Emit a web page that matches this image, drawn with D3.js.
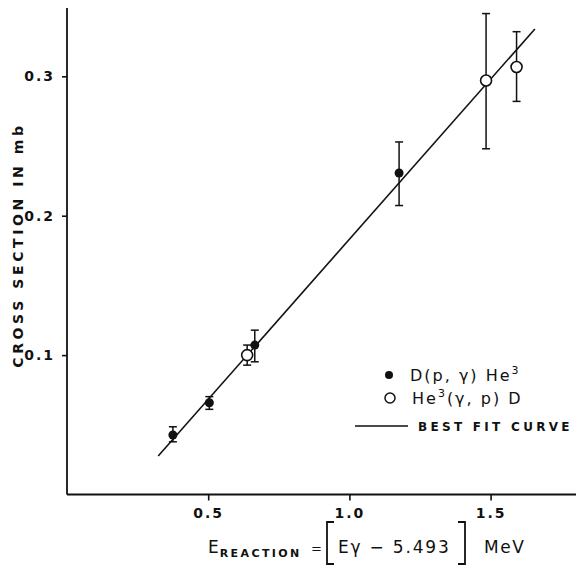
<!DOCTYPE html>
<html>
<head>
<meta charset="utf-8">
<script src="https://cdn.jsdelivr.net/npm/d3@7"></script>
<style>
  body { margin: 0; background: #fff; }
  svg text { font-family: "DejaVu Sans", sans-serif; fill: #111; }
</style>
</head>
<body>
<svg id="chart" width="576" height="565"></svg>
<script>
// D(p,gamma)He3 points (filled)
const dpgX = [0.375, 0.504, 0.665, 1.176];
const dpgY = [0.0427, 0.0658, 0.1072, 0.2306];
const dpgLo = [0.0378, 0.0611, 0.0952, 0.2073];
const dpgHi = [0.0486, 0.0702, 0.1179, 0.2529];

// He3(gamma,p)D points (open)
const hgpX = [0.638, 1.484, 1.592];
const hgpY = [0.100, 0.297, 0.3067];
const hgpLo = [0.0928, 0.248, 0.282];
const hgpHi = [0.1072, 0.345, 0.332];

// best fit line end points
const fitX = [0.323, 1.657];
const fitY = [0.0276, 0.334];

const xTicks = [0.5, 1.0, 1.5];
const xTickLabels = ["0.5", "1.0", "1.5"];
const yTicks = [0.1, 0.2, 0.3];
const yTickLabels = ["0.1", "0.2", "0.3"];

const svg = d3.select("#chart");

const x = d3.scaleLinear().domain([0, 1.8]).range([67, 575.3]);
const y = d3.scaleLinear().domain([0, 0.349]).range([494.5, 8]);

// axes
const xAxis = svg.append("g")
  .attr("transform", `translate(0,${y(0)})`)
  .call(d3.axisBottom(x).tickValues(xTicks).tickSize(6).tickFormat((d, i) => xTickLabels[i]));
const yAxis = svg.append("g")
  .attr("transform", `translate(${x(0)},0)`)
  .call(d3.axisLeft(y).tickValues(yTicks).tickSize(5).tickFormat((d, i) => yTickLabels[i]));

[xAxis, yAxis].forEach(a => {
  a.select(".domain").attr("stroke", "#111").attr("stroke-width", 1.8);
  a.selectAll(".tick line").attr("stroke", "#111").attr("stroke-width", 1.6);
  a.selectAll(".tick text")
    .style("font-family", "DejaVu Sans, sans-serif")
    .style("font-size", "14px")
    .style("font-weight", "bold")
    .style("letter-spacing", "2px")
    .attr("fill", "#111");
});
// no outer ticks in the reference
xAxis.select(".domain").attr("d", `M${x(0)},0H576`);
yAxis.select(".domain").attr("d", `M0,${y(0)}V${y(0.349)}`);
xAxis.selectAll(".tick text").attr("dy", "1.05em");
yAxis.selectAll(".tick text").attr("x", -12);

// fit line
svg.append("line")
  .attr("x1", x(fitX[0])).attr("y1", y(fitY[0]))
  .attr("x2", x(fitX[1])).attr("y2", y(fitY[1]))
  .attr("stroke", "#111").attr("stroke-width", 1.6);

// error bars
function errorBars(xs, los, his) {
  const g = svg.append("g").attr("stroke", "#111").attr("stroke-width", 1.5);
  xs.forEach((v, i) => {
    g.append("line").attr("x1", x(v)).attr("x2", x(v)).attr("y1", y(los[i])).attr("y2", y(his[i]));
    [los[i], his[i]].forEach(e => {
      g.append("line").attr("x1", x(v) - 4).attr("x2", x(v) + 4).attr("y1", y(e)).attr("y2", y(e));
    });
  });
}
errorBars(dpgX, dpgLo, dpgHi);
errorBars(hgpX, hgpLo, hgpHi);

svg.append("g").selectAll("circle")
  .data(dpgX).join("circle")
  .attr("cx", d => x(d))
  .attr("cy", (d, i) => y(dpgY[i]))
  .attr("r", 4.5)
  .attr("fill", "#111");

svg.append("g").selectAll("circle")
  .data(hgpX).join("circle")
  .attr("cx", d => x(d))
  .attr("cy", (d, i) => y(hgpY[i]))
  .attr("r", 5.5)
  .attr("fill", "#fff")
  .attr("stroke", "#111")
  .attr("stroke-width", 1.6);

// legend
const legend = svg.append("g");
legend.append("circle").attr("cx", 389).attr("cy", 375).attr("r", 4).attr("fill", "#111");
legend.append("circle").attr("cx", 390).attr("cy", 398).attr("r", 5).attr("fill", "#fff")
  .attr("stroke", "#111").attr("stroke-width", 1.5);
legend.append("line").attr("x1", 355).attr("x2", 408).attr("y1", 426).attr("y2", 426)
  .attr("stroke", "#111").attr("stroke-width", 1.6);

const t1 = legend.append("text").attr("x", 410).attr("y", 381)
  .style("font-size", "16px").style("letter-spacing", "2px");
t1.append("tspan").text("D(p, γ) He");
t1.append("tspan").attr("dy", -7).style("font-size", "11px").text("3");

const t2 = legend.append("text").attr("x", 412).attr("y", 404)
  .style("font-size", "16px").style("letter-spacing", "2px");
t2.append("tspan").text("He");
t2.append("tspan").attr("dy", -7).style("font-size", "11px").text("3");
t2.append("tspan").attr("dy", 7).text("(γ, p) D");

legend.append("text").attr("x", 418).attr("y", 431)
  .style("font-size", "12px").style("font-weight", "bold").style("letter-spacing", "3.3px")
  .text("BEST FIT CURVE");

// y axis title
svg.append("text")
  .attr("transform", "translate(23,245) rotate(-90)")
  .attr("text-anchor", "middle")
  .style("font-size", "14px").style("font-weight", "bold").style("letter-spacing", "3.6px")
  .text("CROSS SECTION IN mb");

// x axis title
const xt = svg.append("text").attr("x", 208).attr("y", 553)
  .style("font-size", "17px").style("letter-spacing", "1px");
xt.append("tspan").text("E");
xt.append("tspan").attr("dy", 4).style("font-size", "11px").style("font-weight", "bold")
  .style("letter-spacing", "2.4px").text("REACTION");
xt.append("tspan").attr("dy", -4).attr("x", 311).style("font-size", "13px").text("=");

svg.append("path")
  .attr("d", "M334,522H327V564H334M458,522H465V564H458")
  .attr("fill", "none").attr("stroke", "#111").attr("stroke-width", 1.8);

svg.append("text").attr("x", 338).attr("y", 553)
  .style("font-size", "17px").style("letter-spacing", "1.8px")
  .text("Eγ − 5.493");
svg.append("text").attr("x", 484).attr("y", 553)
  .style("font-size", "17px").style("letter-spacing", "1.5px")
  .text("MeV");
</script>
</body>
</html>
